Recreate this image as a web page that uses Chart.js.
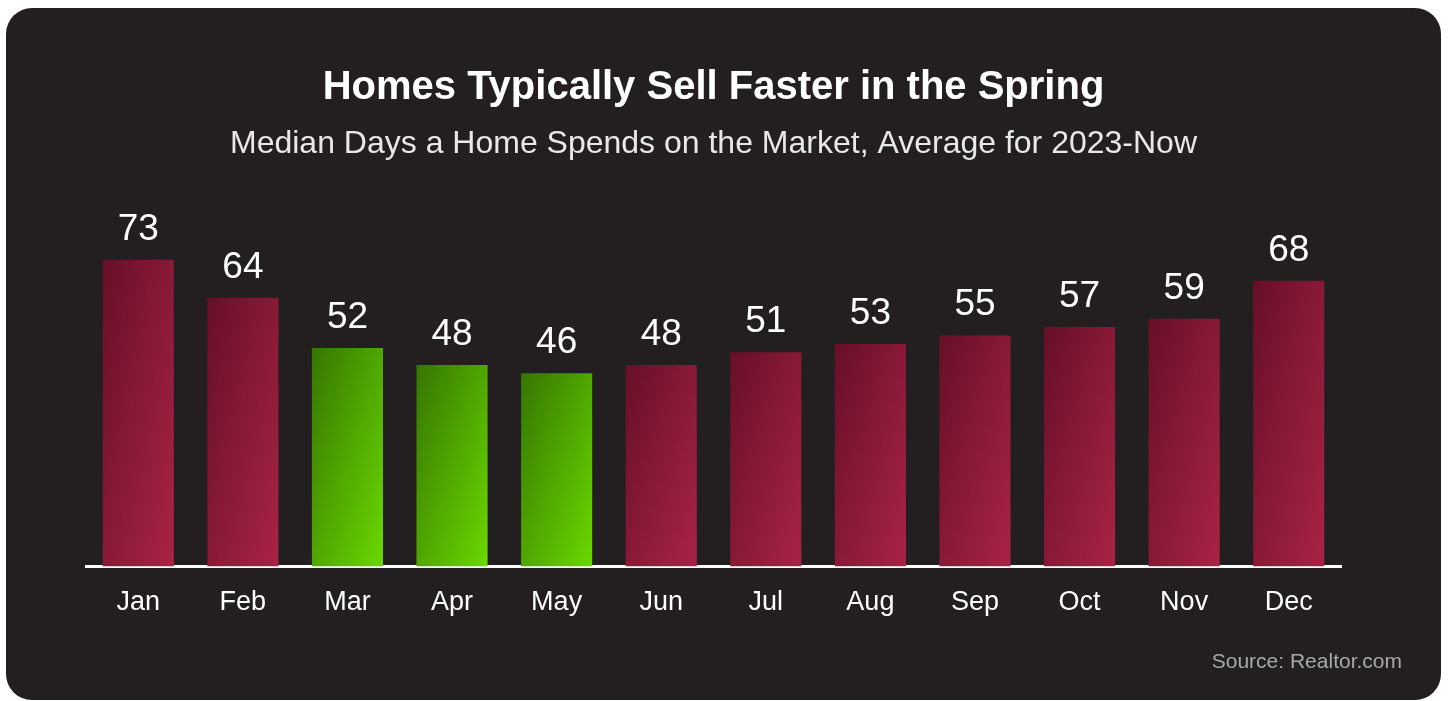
<!DOCTYPE html>
<html>
<head>
<meta charset="utf-8">
<script src="https://cdn.jsdelivr.net/npm/chart.js@4.4.1/dist/chart.umd.min.js"></script>
<style>
  html, body { margin: 0; padding: 0; background: #ffffff; }
  #card {
    position: absolute; left: 6px; top: 8px; width: 1435px; height: 692px;
    background: #231f20; border-radius: 26px; overflow: hidden;
  }
  #card canvas { display: block; }
</style>
</head>
<body>
<div id="card"><canvas id="daysChart" width="1435" height="692"></canvas></div>
<script>
// data
var months = ['Jan', 'Feb', 'Mar', 'Apr', 'May', 'Jun', 'Jul', 'Aug', 'Sep', 'Oct', 'Nov', 'Dec'];
var medianDays = [73, 64, 52, 48, 46, 48, 51, 53, 55, 57, 59, 68];
var springMonths = ['Mar', 'Apr', 'May'];
var sourceNote = 'Source: Realtor.com';

var FONT = '"Liberation Sans", Arial, sans-serif';

// diagonal gradient stretched over each bar's own box (dark top-left -> light bottom-right)
function barGradient(context) {
    var chart = context.chart;
    var area = chart.chartArea;
    if (!area || context.type !== 'data') return '#8a1a35';
    var i = context.dataIndex;
    var xs = chart.scales.x, ys = chart.scales.y;
    var w = xs.width / months.length * 0.68;
    var x0 = xs.getPixelForValue(i) - w / 2;
    var y0 = ys.getPixelForValue(medianDays[i]);
    var h = ys.getPixelForValue(0) - y0;
    var t = 2 * w * h / (w * w + h * h);
    var g = chart.ctx.createLinearGradient(x0, y0, x0 + t * h, y0 + t * w);
    if (springMonths.indexOf(months[i]) >= 0) {
        g.addColorStop(0, '#367600');
        g.addColorStop(1, '#6ad800');
    } else {
        g.addColorStop(0, '#670f28');
        g.addColorStop(1, '#a92345');
    }
    return g;
}

// value labels over bars + source line
var extras = {
    id: 'extras',
    afterDatasetsDraw: function (chart) {
        var ctx = chart.ctx;
        var meta = chart.getDatasetMeta(0);
        ctx.save();
        ctx.fillStyle = '#ffffff';
        ctx.font = '37px ' + FONT;
        ctx.textAlign = 'center';
        ctx.textBaseline = 'alphabetic';
        meta.data.forEach(function (bar, i) {
            ctx.fillText(String(medianDays[i]), bar.x, bar.y - 20);
        });
        ctx.fillStyle = '#a6a8ab';
        ctx.font = '21px ' + FONT;
        ctx.textAlign = 'right';
        ctx.fillText(sourceNote, 1396, 660);
        ctx.restore();
    }
};

var ctx = document.getElementById('daysChart').getContext('2d');
var daysChart = new Chart(ctx, {
    type: 'bar',
    data: {
        labels: months,
        datasets: [{
            label: 'Median days on market',
            data: medianDays,
            backgroundColor: barGradient,
            borderWidth: 0,
            categoryPercentage: 1,
            barPercentage: 0.68
        }]
    },
    options: {
        responsive: false,
        animation: false,
        layout: { padding: { left: 80, right: 100, top: 0, bottom: 69 } },
        plugins: {
            legend: { display: false },
            tooltip: { enabled: false },
            title: {
                display: true,
                text: 'Homes Typically Sell Faster in the Spring',
                color: '#ffffff',
                font: { family: FONT, size: 40, weight: 'bold' },
                padding: { top: 56, bottom: 0 }
            },
            subtitle: {
                display: true,
                text: 'Median Days a Home Spends on the Market, Average for 2023-Now',
                color: '#e8e8e8',
                font: { family: FONT, size: 32 },
                padding: { top: 13, bottom: 25 }
            }
        },
        scales: {
            x: {
                grid: { display: false },
                border: { display: true, color: '#ffffff', width: 3 },
                ticks: { color: '#ffffff', font: { family: FONT, size: 27 }, padding: 12 }
            },
            y: {
                display: false,
                min: 0,
                max: 90
            }
        }
    },
    plugins: [extras]
});
</script>
</body>
</html>
